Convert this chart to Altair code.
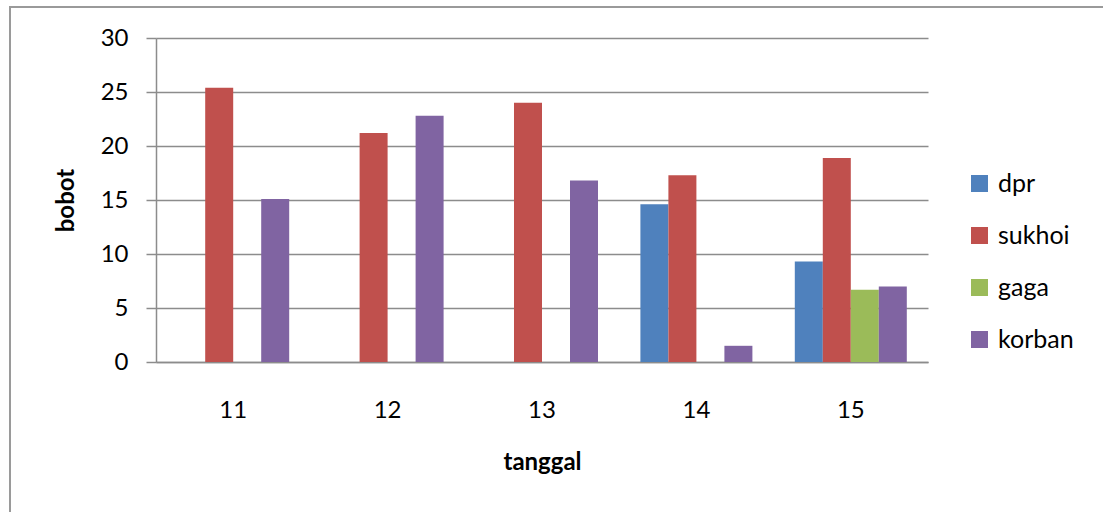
import altair as alt
import pandas as pd

tanggal = ["11", "12", "13", "14", "15"]
series = ["dpr", "sukhoi", "gaga", "korban"]
dpr = [0, 0, 0, 14.6, 9.3]
sukhoi = [25.4, 21.2, 24.0, 17.3, 18.9]
gaga = [0, 0, 0, 0, 6.7]
korban = [15.1, 22.8, 16.8, 1.5, 7.0]
colors = ["#4F81BD", "#C0504D", "#9BBB59", "#8064A2"]

rows = []
for name, vals in zip(series, [dpr, sukhoi, gaga, korban]):
    for t, v in zip(tanggal, vals):
        rows.append({"tanggal": t, "seri": name, "bobot": v})
df = pd.DataFrame(rows)

FONT = "Lato"
GRID = "#8C8C8C"

bars = alt.Chart(df).mark_bar().encode(
    x=alt.X("tanggal:N", sort=tanggal,
            scale=alt.Scale(paddingInner=0.2746, paddingOuter=0.1373),
            axis=alt.Axis(title="tanggal", labelAngle=0, ticks=False, tickSize=0,
                          labelPadding=36, labelFontSize=24, labelFont=FONT,
                          labelColor="#000000", titleFont=FONT, titleFontSize=24,
                          titleFontWeight="bold", titleColor="#000000",
                          titlePadding=28, domainColor=GRID, domainWidth=1.5)),
    xOffset=alt.XOffset("seri:N", sort=series, scale=alt.Scale(paddingInner=0, paddingOuter=0)),
    y=alt.Y("bobot:Q", scale=alt.Scale(domain=[0, 30], nice=False),
            axis=alt.Axis(title="bobot", values=[0, 5, 10, 15, 20, 25, 30],
                          tickSize=10, tickColor=GRID, tickWidth=1.5,
                          gridColor=GRID, gridWidth=1.5, domainColor=GRID, domainWidth=1.5,
                          labelPadding=18, labelFontSize=24, labelFont=FONT,
                          labelColor="#000000", titleFont=FONT, titleFontSize=24,
                          titleFontWeight="bold", titleColor="#000000", titlePadding=22)),
    color=alt.Color("seri:N", sort=series,
                    scale=alt.Scale(domain=series, range=colors),
                    legend=alt.Legend(title=None, orient="none", legendX=811, legendY=133,
                                      symbolType="square", symbolSize=289, symbolStrokeWidth=0,
                                      labelFontSize=25, labelFont=FONT, labelColor="#000000",
                                      labelOffset=6, rowPadding=26, padding=0)),
)

frame_df = pd.DataFrame({"k": [0]})
frame = alt.Chart(frame_df).mark_rect(fill=None, stroke="#9A9A9A", strokeWidth=2).encode(
    x=alt.value(-146), x2=alt.value(1000), y=alt.value(-31), y2=alt.value(520)
)

chart = alt.layer(frame, bars).properties(
    width=772, height=324,
    autosize=alt.AutoSizeParams(type="none"),
    padding={"left": 156, "top": 38, "right": 175, "bottom": 150},
    background="#FFFFFF",
).configure_view(stroke=None)

chart.save("out.html", embed_options={"renderer": "svg", "actions": False})
